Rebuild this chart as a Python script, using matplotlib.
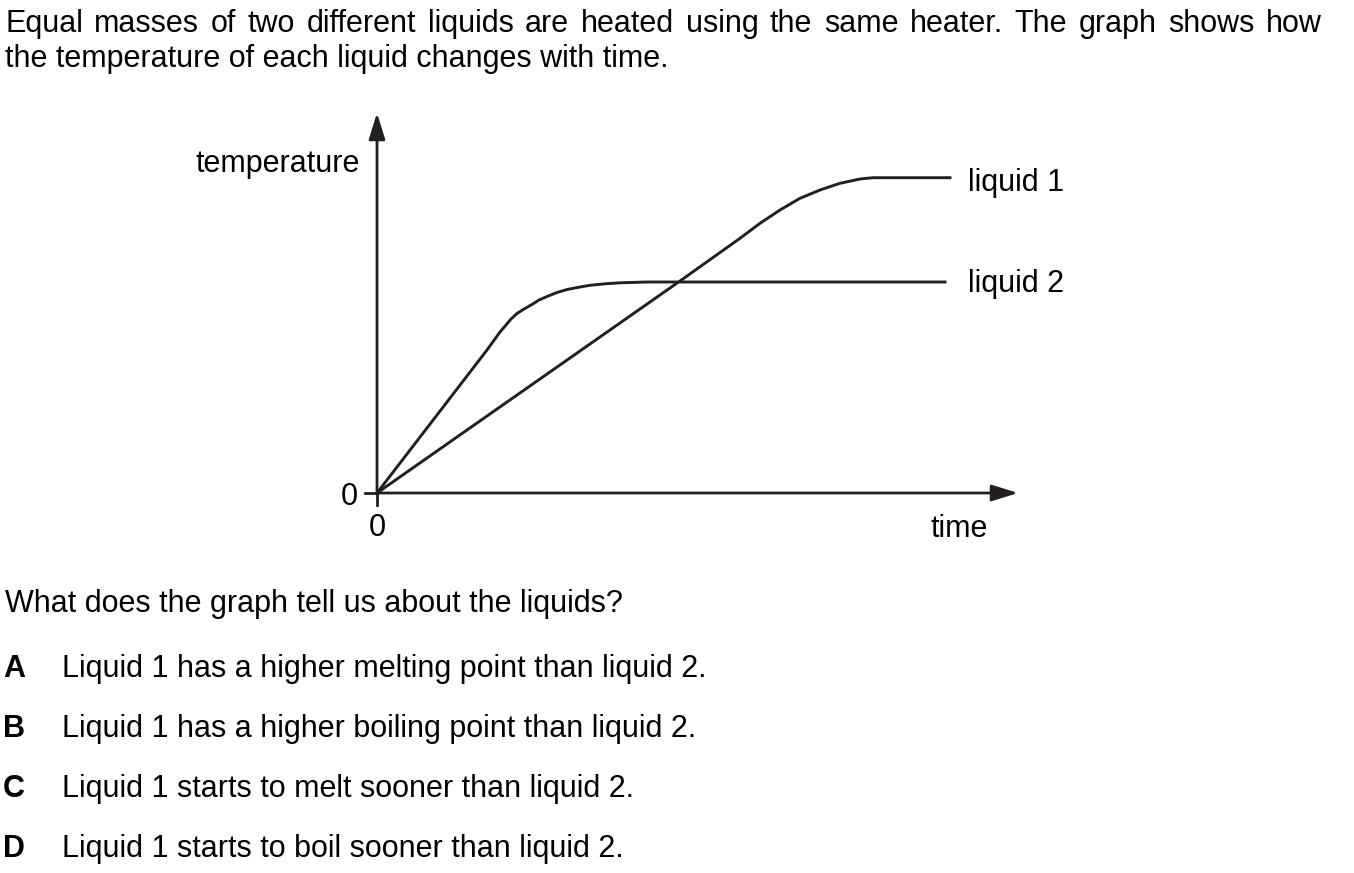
import matplotlib.pyplot as plt
import numpy as np

plt.rcParams['font.family'] = ['Liberation Sans', 'DejaVu Sans']

# curves (time, temperature in arbitrary units from origin)
time_1 = [0, 303, 363, 383, 403, 423, 443, 463, 483, 496, 573]
temp_1 = [0, 212, 254.7, 269.7, 283, 294.7, 303, 309.7, 314, 315.3, 315.3]

time_2 = [0, 110, 123, 129, 134, 140, 147, 155, 162, 170, 180, 190, 203, 213, 228, 243, 270, 568]
temp_2 = [0, 143, 161, 168, 174, 179.5, 184, 188.5, 193, 196.5, 200.5, 203.5, 206, 207.7, 209.2, 210.2, 211, 211]

series_labels = ["liquid 1", "liquid 2"]

intro = ["Equal masses of two different liquids are heated using the same heater. The graph shows how",
         "the temperature of each liquid changes with time."]
question = "What does the graph tell us about the liquids?"
option_keys = ["A", "B", "C", "D"]
option_texts = ["Liquid 1 has a higher melting point than liquid 2.",
                "Liquid 1 has a higher boiling point than liquid 2.",
                "Liquid 1 starts to melt sooner than liquid 2.",
                "Liquid 1 starts to boil sooner than liquid 2."]

W, H = 1354, 873
ink = "#231f20"
fs = 22
fig = plt.figure(figsize=(W / 100, H / 100), dpi=100)


def ptext(x, y, s, **kw):
    # place text at pixel position (top-left origin), baseline aligned
    kw.setdefault("fontsize", fs)
    kw.setdefault("va", "baseline")
    kw.setdefault("color", "black")
    return fig.text(x / W, 1 - y / H, s, **kw)


# first line is justified between x=5 and x=1322
renderer = fig.canvas.get_renderer()
words = intro[0].split(" ")
objs = [ptext(0, 32, w) for w in words]
widths = [o.get_window_extent(renderer).width for o in objs]
gap = (1322 - 5 - sum(widths)) / (len(words) - 1)
x = 5
for o, w in zip(objs, widths):
    o.set_x(x / W)
    x += w + gap
ptext(5, 67, intro[1])

ptext(5, 612, question)
for i, (k, t) in enumerate(zip(option_keys, option_texts)):
    y = 677 + 60 * i
    ptext(3, y, k, fontweight="bold")
    ptext(62, y, t)

# chart axes: origin at pixel (377, 493)
ox, oy = 377, 493
xmax, ymax = 1018 - ox, oy - 113
ax = fig.add_axes([ox / W, (H - oy) / H, xmax / W, ymax / H])
ax.set_xlim(0, xmax)
ax.set_ylim(0, ymax)
ax.axis("off")

ax.plot(time_1, temp_1, color=ink, lw=2.1, solid_joinstyle="round", clip_on=False)
ax.plot(time_2, temp_2, color=ink, lw=2.1, solid_joinstyle="round", clip_on=False)

arrow = dict(arrowstyle="-|>,head_length=0.8,head_width=0.25", lw=2.0, color=ink,
             mutation_scale=20, shrinkA=0, shrinkB=0)
ax.annotate("", xy=(xmax, 0), xytext=(0, 0), arrowprops=arrow, annotation_clip=False)
ax.annotate("", xy=(0, ymax), xytext=(0, 0), arrowprops=arrow, annotation_clip=False)

# origin ticks
ax.plot([-12, 0], [0, 0], color=ink, lw=2.0, clip_on=False)
ax.plot([0, 0], [-12, 0], color=ink, lw=2.0, clip_on=False)

ptext(349, 505, "0", ha="center")
ptext(377, 536, "0", ha="center")
ptext(360, 172, "temperature", ha="right")
ptext(959, 537, "time", ha="center")
ptext(968, 191, series_labels[0])
ptext(968, 292, series_labels[1])

fig.savefig("out.png", dpi=100)
